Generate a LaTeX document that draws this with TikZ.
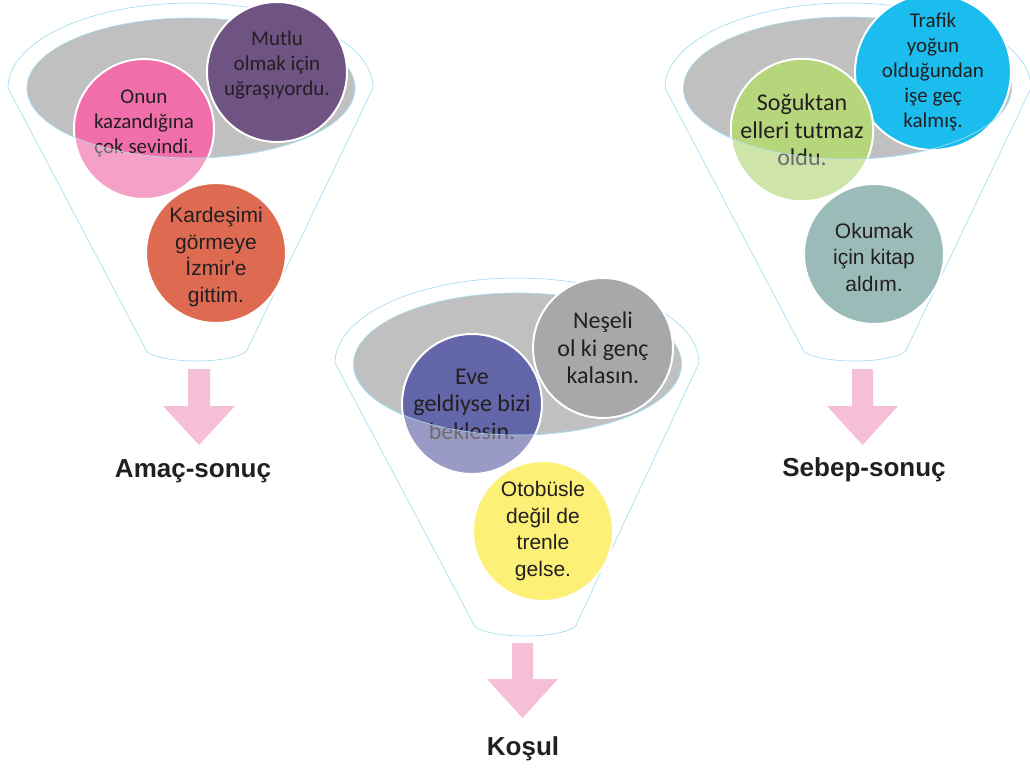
\documentclass[tikz,border=0pt]{standalone}
\usepackage{fontspec}
\setmainfont{Liberation Sans}
\newfontfamily\calfont{Carlito}
\newfontfamily\arifont{Liberation Sans}
\definecolor{funnelblue}{HTML}{A9DDF3}
\definecolor{bowlgrey}{HTML}{BFC0BF}
\definecolor{txt}{HTML}{231F20}
\definecolor{arrowpink}{HTML}{F6BFD8}
\definecolor{cpink}{HTML}{F06EAA}
\definecolor{cpurple}{HTML}{6F5383}
\definecolor{corange}{HTML}{DE6B51}
\definecolor{cblue}{HTML}{6366A8}
\definecolor{cgrey}{HTML}{A6A8AA}
\definecolor{cyellow}{HTML}{FCF077}
\definecolor{cgreen}{HTML}{B6D67C}
\definecolor{ccyan}{HTML}{1BBDEF}
\definecolor{cteal}{HTML}{9BBBB8}
\begin{document}
\begin{tikzpicture}[x=1pt,y=-1pt,
  funnel/.style={fill=white, draw=funnelblue, line width=0.7pt},
  bowl/.style={fill=bowlgrey, draw=funnelblue, line width=0.6pt},
  bowlline/.style={draw=funnelblue, line width=0.6pt},
  bubble/.style={circle, minimum size=140pt, inner sep=0pt, draw=white, line width=2pt, text=txt, align=center},
  words/.style={inner sep=0pt, text=txt, align=center},
  calA/.style={font=\calfont\fontsize{21}{25}\selectfont},
  calB/.style={font=\calfont\fontsize{24}{27.5}\selectfont},
  ari/.style={font=\arifont\fontsize{21}{26.5}\selectfont},
  haze/.style={fill=white, fill opacity=0.35},
  downarrow/.style={fill=arrowpink},
  outlbl/.style={font=\arifont\bfseries\fontsize{26}{30}\selectfont, text=txt, anchor=base}
]
\useasboundingbox (0,0) rectangle (1030,769);

% ---------------- Left funnel: Amac-sonuc ----------------
\path[funnel] (8,88) arc[start angle=180,end angle=360,x radius=182.5,y radius=85]
  -- (248,348) arc[start angle=0,end angle=180,x radius=51.5,y radius=13] -- cycle;
\path[bowl] (191,88) ellipse[x radius=164,y radius=70];
\node[bubble, fill=cpurple] (mutlu) at (277,72) {};
\node[words, calA] (mutlu-t) at (277,65) {Mutlu\\olmak için\\uğraşıyordu.};
\node[bubble, fill=cpink] (onun) at (144,129) {};
\node[words, calA] (onun-t) at (144,123) {Onun\\kazandığına\\çok sevindi.};
\begin{scope}
  \clip (27,88) arc[start angle=180,end angle=0,x radius=164,y radius=70] -- (355,300) -- (27,300) -- cycle;
  \fill[haze] (onun.center) circle[radius=71];
\end{scope}
\draw[bowlline] (27,88) arc[start angle=180,end angle=0,x radius=164,y radius=70];
\node[bubble, fill=corange] (kardes) at (216,253) {};
\node[words, ari] (kardes-t) at (216,257) {Kardeşimi\\görmeye\\İzmir'e\\gittim.};
\fill[downarrow] (188,369) -- (210,369) -- (210,406) -- (235,406) -- (199,445) -- (163,406) -- (188,406) -- cycle;
\node[outlbl] (amac) at (193,477) {Amaç-sonuç};

% ---------------- Middle funnel: Kosul ----------------
\path[funnel] (335,363) arc[start angle=180,end angle=360,x radius=182,y radius=85]
  -- (577,623) arc[start angle=0,end angle=180,x radius=52,y radius=13] -- cycle;
\path[bowl] (517.5,364) ellipse[x radius=164,y radius=71];
\node[bubble, calB, fill=cgrey] (neseli) at (603,348) {Neşeli\\ol ki genç\\kalasın.};
\node[bubble, calB, fill=cblue] (eve) at (472,404) {Eve\\geldiyse bizi\\beklesin.};
\begin{scope}
  \clip (353.5,364) arc[start angle=180,end angle=0,x radius=164,y radius=71] -- (681.5,580) -- (353.5,580) -- cycle;
  \fill[haze] (eve.center) circle[radius=71];
\end{scope}
\draw[bowlline] (353.5,364) arc[start angle=180,end angle=0,x radius=164,y radius=71];
\node[bubble, ari, fill=cyellow] (otobus) at (543,531) {Otobüsle\\değil de\\trenle\\gelse.};
\fill[downarrow] (512,643) -- (533,643) -- (533,679) -- (558,679) -- (522.5,718) -- (487,679) -- (512,679) -- cycle;
\node[outlbl] (kosul) at (523,755) {Koşul};

% ---------------- Right funnel: Sebep-sonuc ----------------
\path[funnel] (665,88) arc[start angle=180,end angle=360,x radius=183,y radius=85]
  -- (907,348) arc[start angle=0,end angle=180,x radius=52.5,y radius=13] -- cycle;
\path[bowl] (847.5,88) ellipse[x radius=164,y radius=71];
\node[bubble, calA, fill=ccyan] (trafik) at (933,72) {Trafik\\yoğun\\olduğundan\\işe geç\\kalmış.};
\node[bubble, calB, fill=cgreen] (soguk) at (802,130) {Soğuktan\\elleri tutmaz\\oldu.};
\begin{scope}
  \clip (683.5,88) arc[start angle=180,end angle=0,x radius=164,y radius=71] -- (1011.5,300) -- (683.5,300) -- cycle;
  \fill[haze] (soguk.center) circle[radius=71];
\end{scope}
\draw[bowlline] (683.5,88) arc[start angle=180,end angle=0,x radius=164,y radius=71];
\node[bubble, fill=cteal] (okumak) at (874,254) {};
\node[words, ari] (okumak-t) at (874,257) {Okumak\\için kitap\\aldım.};
\fill[downarrow] (852,369) -- (873,369) -- (873,406) -- (898,406) -- (862.5,445) -- (827,406) -- (852,406) -- cycle;
\node[outlbl] (sebep) at (864,476) {Sebep-sonuç};
\end{tikzpicture}
\end{document}
